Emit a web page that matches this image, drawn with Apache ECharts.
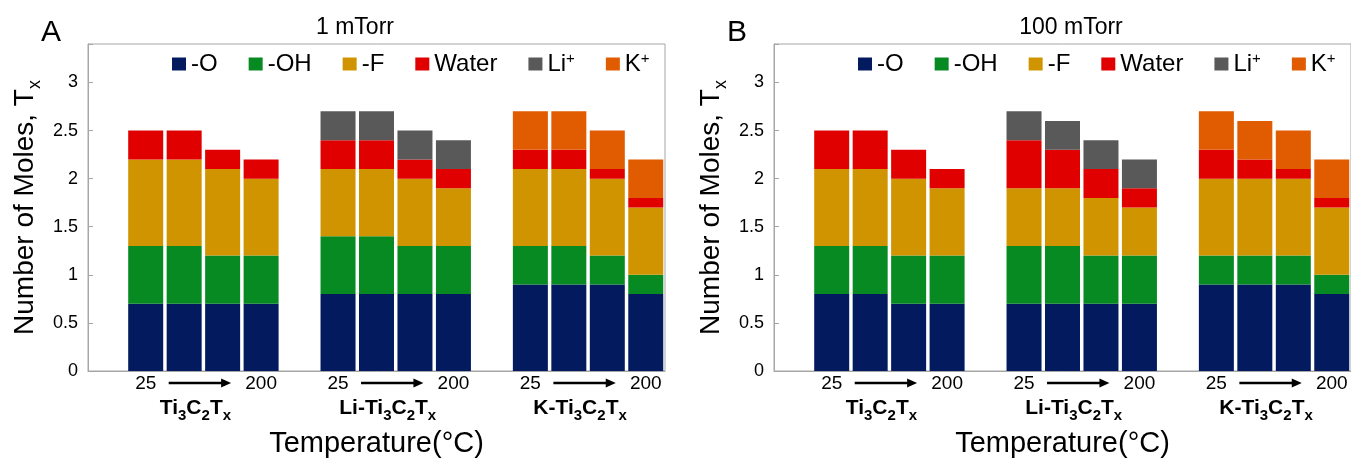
<!DOCTYPE html>
<html>
<head>
<meta charset="utf-8">
<script src="https://cdn.jsdelivr.net/npm/echarts@6/dist/echarts.min.js"></script>
<style>
  html, body { margin: 0; background: #fff; }
  #chart { width: 1351px; height: 458px; }
</style>
</head>
<body>
<div id="chart"></div>
<script>
// slot labels along each x axis (blank slots separate the three samples)
const slots = ['', '25', '', '', '200', '', '25', '', '', '200', '', '25', '', '', '200'];
const groupNames = ['Ti3C2Tx', 'Li-Ti3C2Tx', 'K-Ti3C2Tx'];
const panelTitles = ['1 mTorr', '100 mTorr'];
const panelLetters = ['A', 'B'];
const seriesNames = ['-O', '-OH', '-F', 'Water', 'Li+', 'K+'];
const seriesColors = ['#031b5e', '#078a22', '#d09400', '#e00000', '#595959', '#e15b00'];
const yTicks = [0, 0.5, 1, 1.5, 2, 2.5, 3];

// 1 mTorr
const lowO     = [null, 0.7, 0.7, 0.7, 0.7, null, 0.8, 0.8, 0.8, 0.8, null, 0.9, 0.9, 0.9, 0.8];
const lowOH    = [null, 0.6, 0.6, 0.5, 0.5, null, 0.6, 0.6, 0.5, 0.5, null, 0.4, 0.4, 0.3, 0.2];
const lowF     = [null, 0.9, 0.9, 0.9, 0.8, null, 0.7, 0.7, 0.7, 0.6, null, 0.8, 0.8, 0.8, 0.7];
const lowWater = [null, 0.3, 0.3, 0.2, 0.2, null, 0.3, 0.3, 0.2, 0.2, null, 0.2, 0.2, 0.1, 0.1];
const lowLi    = [null, null, null, null, null, null, 0.3, 0.3, 0.3, 0.3, null, null, null, null, null];
const lowK     = [null, null, null, null, null, null, null, null, null, null, null, 0.4, 0.4, 0.4, 0.4];

// 100 mTorr
const highO     = [null, 0.8, 0.8, 0.7, 0.7, null, 0.7, 0.7, 0.7, 0.7, null, 0.9, 0.9, 0.9, 0.8];
const highOH    = [null, 0.5, 0.5, 0.5, 0.5, null, 0.6, 0.6, 0.5, 0.5, null, 0.3, 0.3, 0.3, 0.2];
const highF     = [null, 0.8, 0.8, 0.8, 0.7, null, 0.6, 0.6, 0.6, 0.5, null, 0.8, 0.8, 0.8, 0.7];
const highWater = [null, 0.4, 0.4, 0.3, 0.2, null, 0.5, 0.4, 0.3, 0.2, null, 0.3, 0.2, 0.1, 0.1];
const highLi    = [null, null, null, null, null, null, 0.3, 0.3, 0.3, 0.3, null, null, null, null, null];
const highK     = [null, null, null, null, null, null, null, null, null, null, null, 0.4, 0.4, 0.4, 0.4];

const panels = [
  [lowO, lowOH, lowF, lowWater, lowLi, lowK],
  [highO, highOH, highF, highWater, highLi, highK]
];

const FONT = '"Liberation Sans", Arial, sans-serif';
const frameColor = '#a6a6a6';
const gridLefts = [88, 774];

// Ti3C2Tx -> rich text with subscripts
function chemRich(name) {
  return name.split(/(\d|x)/).filter((s) => s !== '').map((s) =>
    /^(\d|x)$/.test(s) ? '{s|' + s + '}' : '{b|' + s + '}'
  ).join('');
}

function legendText(name) {
  if (name.endsWith('+')) {
    return '{n|' + name.slice(0, -1) + '}{sup|+}';
  }
  return '{n|' + name + '}';
}

const option = {
  animation: false,
  textStyle: { fontFamily: FONT },
  grid: gridLefts.map((left) => ({
    left: left, top: 44, width: 577, height: 327,
    outerBoundsMode: 'none',
    show: true, borderColor: frameColor, borderWidth: 1
  })),
  legend: gridLefts.map((left) => ({
    data: seriesNames,
    icon: 'rect',
    left: left + 84,
    top: 51,
    padding: 0,
    itemWidth: 14,
    itemHeight: 13,
    itemGap: 31,
    selectedMode: false,
    formatter: legendText,
    textStyle: {
      color: '#000',
      fontFamily: FONT,
      rich: {
        n: { fontSize: 24, lineHeight: 26, fontFamily: FONT },
        sup: { fontSize: 15, lineHeight: 26, verticalAlign: 'top', fontFamily: FONT }
      }
    }
  })),
  xAxis: gridLefts.map((left, k) => ({
    type: 'category',
    gridIndex: k,
    data: slots,
    axisLine: { lineStyle: { color: frameColor, width: 1 } },
    axisTick: { show: false },
    axisLabel: { interval: 0, color: '#000', fontSize: 19, margin: 3, fontFamily: FONT },
    name: 'Temperature(°C)',
    nameLocation: 'middle',
    nameGap: 58,
    nameTextStyle: { color: '#000', fontSize: 29, fontFamily: FONT }
  })),
  yAxis: gridLefts.map((left, k) => ({
    type: 'value',
    gridIndex: k,
    min: 0,
    max: 3.4,
    interval: 0.5,
    axisLine: { show: true, lineStyle: { color: frameColor, width: 1 } },
    axisTick: { show: true, inside: true, length: 5, lineStyle: { color: frameColor } },
    splitLine: { show: false },
    axisLabel: {
      color: '#000', fontSize: 18, margin: 10, fontFamily: FONT,
      formatter: (v) => (yTicks.includes(Math.round(v * 10) / 10) ? String(v) : '')
    },
    name: 'Number of Moles, T{sub|x}',
    nameLocation: 'middle',
    nameGap: 44,
    nameTextStyle: {
      color: '#000', fontSize: 28, fontFamily: FONT, lineHeight: 32,
      rich: { sub: { fontSize: 18, verticalAlign: 'bottom', lineHeight: 38, fontFamily: FONT } }
    }
  })),
  series: panels.flatMap((vals, k) => vals.map((data, j) => ({
    name: seriesNames[j],
    type: 'bar',
    stack: 'panel' + k,
    xAxisIndex: k,
    yAxisIndex: k,
    barCategoryGap: '9%',
    itemStyle: { color: seriesColors[j] },
    data: data
  })))
};

const chart = echarts.init(document.getElementById('chart'), null, { renderer: 'canvas' });
chart.setOption(option);

// annotations: panel letters, titles, 25 -> 200 arrows and sample names
const elements = [];
const titleCenters = [355, 1071];
panelTitles.forEach((t, k) => {
  elements.push({
    type: 'text', x: titleCenters[k], y: 28,
    style: { text: t, fill: '#000', font: '23px ' + FONT, textAlign: 'center', textVerticalAlign: 'middle' }
  });
  elements.push({
    type: 'text', x: [51, 737][k], y: 33,
    style: { text: panelLetters[k], fill: '#000', font: '30px ' + FONT, textAlign: 'center', textVerticalAlign: 'middle' }
  });
});

panels.forEach((vals, k) => {
  const px = (i) => chart.convertToPixel({ xAxisIndex: k }, i);
  const base = chart.convertToPixel({ yAxisIndex: k }, 0);
  groupNames.forEach((g, gi) => {
    const first = gi * 5 + 1;
    const last = gi * 5 + 4;
    const x0 = px(first) + 23;
    const tip = px(last) - 30;
    const ay = base + 12;
    elements.push({
      type: 'line',
      shape: { x1: x0, y1: ay, x2: tip - 7, y2: ay },
      style: { stroke: '#000', lineWidth: 2.5 }
    });
    elements.push({
      type: 'polygon',
      shape: { points: [[tip, ay], [tip - 10, ay - 4.5], [tip - 10, ay + 4.5]] },
      style: { fill: '#000' }
    });
    elements.push({
      type: 'text',
      x: (px(first + 1) + px(first + 2)) / 2 - 8,
      y: base + 37,
      style: {
        text: chemRich(g),
        textAlign: 'center',
        textVerticalAlign: 'middle',
        rich: {
          b: { fontSize: 21, fontWeight: 'bold', fontFamily: FONT, fill: '#000', lineHeight: 26, verticalAlign: 'middle' },
          s: { fontSize: 15, fontWeight: 'bold', fontFamily: FONT, fill: '#000', lineHeight: 30, verticalAlign: 'bottom' }
        }
      }
    });
  });
});

chart.setOption({ graphic: { elements: elements } });
</script>
</body>
</html>
